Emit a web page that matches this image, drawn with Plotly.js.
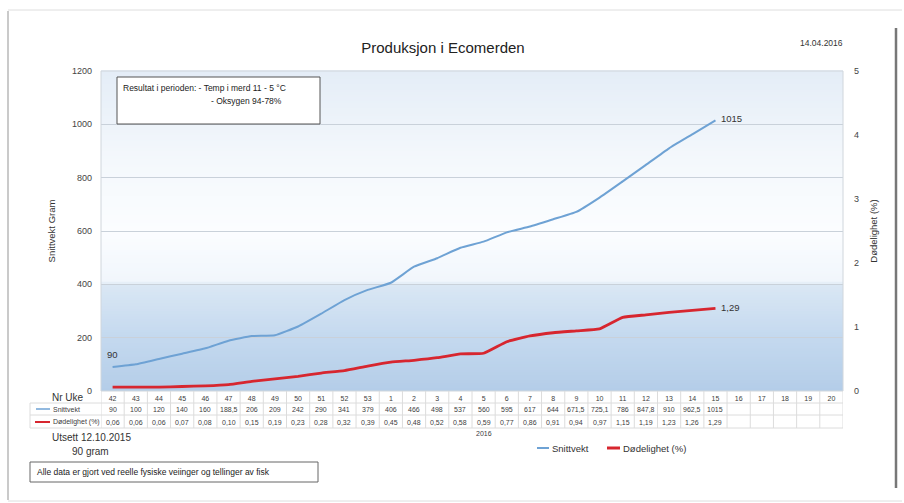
<!DOCTYPE html>
<html>
<head>
<meta charset="utf-8">
<script src="https://cdn.plot.ly/plotly-3.0.1.min.js"></script>
<style>
html,body{margin:0;padding:0;background:#fff;}
#chart{width:904px;height:503px;}
</style>
</head>
<body>
<div id="chart"></div>
<script>
// ---- data ----
const weeks = ["42","43","44","45","46","47","48","49","50","51","52","53","1","2","3","4","5","6","7","8","9","10","11","12","13","14","15","16","17","18","19","20"];
const snittvekt = [90,100,120,140,160,188.5,206,209,242,290,341,379,406,466,498,537,560,595,617,644,671.5,725.1,786,847.8,910,962.5,1015];
const dodelighet = [0.06,0.06,0.06,0.07,0.08,0.10,0.15,0.19,0.23,0.28,0.32,0.39,0.45,0.48,0.52,0.58,0.59,0.77,0.86,0.91,0.94,0.97,1.15,1.19,1.23,1.26,1.29];
const leftTicks = [0,200,400,600,800,1000,1200];
const rightTicks = [0,1,2,3,4,5];

// ---- geometry helpers (layout only) ----
const W = 904, H = 503;
const L = 101, R = 843, T = 71, B = 391;
const px = x => (x - L) / (R - L);
const py = y => (B - y) / (B - T);
const idx = weeks.map((w, i) => i);
const idxS = snittvekt.map((v, i) => i);
const idxD = dodelighet.map((v, i) => i);
const fmt = (v, d) => (d === undefined ? String(v) : v.toFixed(d)).replace('.', ',');

const blue = '#6ea2d4';
const red = '#d7262f';
const FONT = 'Liberation Sans, Arial, sans-serif';
const txt = '#404040';

const shapes = [];
const annotations = [];
function note(o) {
  annotations.push(Object.assign({showarrow:false, xanchor:'center', yanchor:'middle'}, o));
}

// background gradient bands in plot area
function lerp(a, b, t) { return a + (b - a) * t; }
function hex2rgb(h) { return [parseInt(h.slice(1,3),16), parseInt(h.slice(3,5),16), parseInt(h.slice(5,7),16)]; }
const stops = [
  [0.00, '#b4cde8'],
  [0.17, '#c4d9ef'],
  [0.33, '#dae7f4'],
  [0.345, '#f1f6fc'],
  [0.50, '#fbfdff'],
  [0.72, '#f4f8fc'],
  [1.00, '#e4edf7']
];
function colAt(f) {
  for (let k = 0; k < stops.length - 1; k++) {
    if (f >= stops[k][0] && f <= stops[k+1][0]) {
      const t = (f - stops[k][0]) / (stops[k+1][0] - stops[k][0]);
      const a = hex2rgb(stops[k][1]), b = hex2rgb(stops[k+1][1]);
      return 'rgb(' + Math.round(lerp(a[0],b[0],t)) + ',' + Math.round(lerp(a[1],b[1],t)) + ',' + Math.round(lerp(a[2],b[2],t)) + ')';
    }
  }
  return stops[stops.length-1][1];
}
const N = 120;
for (let k = 0; k < N; k++) {
  const f0 = k / N, f1 = (k + 1) / N;
  shapes.push({type:'rect', xref:'paper', yref:'paper', x0:0, x1:1, y0:f0, y1:f1 + 0.002,
    fillcolor: colAt((f0 + f1) / 2), line:{width:0}, layer:'below'});
}
// plot border
shapes.push({type:'rect', xref:'paper', yref:'paper', x0:0, x1:1, y0:0, y1:1, line:{color:'#d0d6dc', width:1}, fillcolor:'rgba(0,0,0,0)', layer:'above'});

// outer frame
shapes.push({type:'line', xref:'paper', yref:'paper', x0:px(8), x1:px(8), y0:py(11), y1:py(500), line:{color:'#b8b8b8', width:1.5}});
shapes.push({type:'line', xref:'paper', yref:'paper', x0:px(8), x1:px(902), y0:py(10), y1:py(10), line:{color:'#dedede', width:1}});
shapes.push({type:'line', xref:'paper', yref:'paper', x0:px(8), x1:px(902), y0:py(501), y1:py(501), line:{color:'#dedede', width:1}});
shapes.push({type:'line', xref:'paper', yref:'paper', x0:px(896), x1:px(896), y0:py(28), y1:py(488), line:{color:'#777', width:2.5}});

// data table grid
const gridCol = '#dcdcdc';
[403, 415, 428].forEach(y => {
  shapes.push({type:'line', xref:'paper', yref:'paper', x0:px(30), x1:1, y0:py(y), y1:py(y), line:{color:gridCol, width:1}});
});
shapes.push({type:'line', xref:'paper', yref:'paper', x0:px(30), x1:px(30), y0:py(403), y1:py(428), line:{color:gridCol, width:1}});
for (let i = 0; i <= weeks.length; i++) {
  shapes.push({type:'line', xref:'x', yref:'paper', x0:i - 0.5, x1:i - 0.5, y0:py(391), y1:py(428), line:{color:gridCol, width:1}});
}
// table row keys
shapes.push({type:'line', xref:'paper', yref:'paper', x0:px(36), x1:px(50), y0:py(409), y1:py(409), line:{color:blue, width:1.5}});
shapes.push({type:'line', xref:'paper', yref:'paper', x0:px(35), x1:px(50), y0:py(422), y1:py(422), line:{color:red, width:2}});

// table row texts
snittvekt.forEach((v, i) => note({xref:'x', yref:'paper', x:i, y:py(409), text:fmt(v), font:{size:7, color:txt, family:FONT}}));
dodelighet.forEach((v, i) => note({xref:'x', yref:'paper', x:i, y:py(422), text:fmt(v, 2), font:{size:7, color:txt, family:FONT}}));
note({xref:'x', yref:'paper', x:16, y:py(433), text:'2016', font:{size:7, color:txt, family:FONT}});
note({xref:'paper', yref:'paper', x:px(50), y:py(397), text:'Nr Uke', xanchor:'left', font:{size:10, color:'#333', family:FONT}});
note({xref:'paper', yref:'paper', x:px(51), y:py(409), text:'Snittvekt', xanchor:'left', font:{size:7, color:txt, family:FONT}});
note({xref:'paper', yref:'paper', x:px(51), y:py(422), text:'Dødelighet (%)', xanchor:'left', font:{size:7, color:txt, family:FONT}});

// notes
note({xref:'paper', yref:'paper', x:px(91), y:py(437), text:'Utsett 12.10.2015', font:{size:10, color:'#333', family:FONT}});
note({xref:'paper', yref:'paper', x:px(90), y:py(451), text:'90 gram', font:{size:10, color:'#333', family:FONT}});

// custom legend
shapes.push({type:'line', xref:'paper', yref:'paper', x0:px(537), x1:px(549), y0:py(448), y1:py(448), line:{color:blue, width:2}});
note({xref:'paper', yref:'paper', x:px(550), y:py(448), text:'Snittvekt', xanchor:'left', font:{size:9.5, color:'#333', family:FONT}});
shapes.push({type:'line', xref:'paper', yref:'paper', x0:px(607), x1:px(620), y0:py(448), y1:py(448), line:{color:red, width:3}});
note({xref:'paper', yref:'paper', x:px(621), y:py(448), text:'Dødelighet (%)', xanchor:'left', font:{size:9.5, color:'#333', family:FONT}});

// bottom note box
shapes.push({type:'rect', xref:'paper', yref:'paper', x0:px(30), x1:px(318), y0:py(462), y1:py(482), line:{color:'#666', width:1}, fillcolor:'#fff'});
note({xref:'paper', yref:'paper', x:px(35), y:py(472), text:'Alle data er gjort ved reelle fysiske veiinger og tellinger av fisk', xanchor:'left', font:{size:8.5, color:'#222', family:FONT}});

// result box in plot
shapes.push({type:'rect', xref:'paper', yref:'paper', x0:px(117), x1:px(320), y0:py(77), y1:py(124), line:{color:'#555', width:1}, fillcolor:'#fff', layer:'above'});
note({xref:'paper', yref:'paper', x:px(121), y:py(88), text:'Resultat i perioden: - Temp i merd 11 - 5 °C', xanchor:'left', font:{size:8.5, color:'#222', family:FONT}});
note({xref:'paper', yref:'paper', x:px(209), y:py(101), text:'- Oksygen 94-78%', xanchor:'left', font:{size:8.5, color:'#222', family:FONT}});

// date
note({xref:'paper', yref:'paper', x:px(821), y:py(43), text:'14.04.2016', font:{size:8.5, color:'#333', family:FONT}});

// data labels
const lastS = snittvekt.length - 1, lastD = dodelighet.length - 1;
note({xref:'x', yref:'y', x:0, y:snittvekt[0], text:fmt(snittvekt[0]), yshift:13, font:{size:9.5, color:'#333', family:FONT}});
note({xref:'x', yref:'y', x:lastS, y:snittvekt[lastS], text:fmt(snittvekt[lastS]), xanchor:'left', xshift:4, yshift:2, font:{size:9.5, color:'#333', family:FONT}});
note({xref:'x', yref:'y2', x:lastD, y:dodelighet[lastD], text:fmt(dodelighet[lastD], 2), xanchor:'left', xshift:4, yshift:1, font:{size:9.5, color:'#333', family:FONT}});

const traces = [
  {x: idxS, y: snittvekt, type:'scatter', mode:'lines', name:'Snittvekt', line:{color:blue, width:2, shape:'spline', smoothing:0.4}, yaxis:'y', hoverinfo:'y'},
  {x: idxD, y: dodelighet, type:'scatter', mode:'lines', name:'Dødelighet (%)', line:{color:red, width:2.8, shape:'spline', smoothing:0.4}, yaxis:'y2', hoverinfo:'y'}
];

const layout = {
  width: W, height: H,
  margin: {l: L, r: W - R, t: T, b: H - B, pad: 0},
  paper_bgcolor: '#fff',
  plot_bgcolor: 'rgba(0,0,0,0)',
  showlegend: false,
  font: {family: FONT, color: '#333'},
  title: {text: 'Produksjon i Ecomerden', x: 0.49, xanchor:'center', y: 1 - 48 / H, yanchor:'middle', font: {size: 15, color: '#222', family: FONT}},
  xaxis: {
    range: [-0.5, weeks.length - 0.5],
    tickmode: 'array', tickvals: idx, ticktext: weeks,
    tickfont: {size: 7, color: txt, family: FONT},
    showgrid: false, zeroline: false, showline: false, ticks: '', ticklen: 0,
    ticklabelstandoff: 2
  },
  yaxis: {
    range: [0, 1200], tickmode: 'array', tickvals: leftTicks,
    tickfont: {size: 9, color: '#444', family: FONT},
    showgrid: true, gridcolor: '#c9d1da', gridwidth: 1, zeroline: false, showline: false, ticks: '',
    ticklabelstandoff: 8,
    title: {text: 'Snittvekt Gram', font: {size: 9.5, color: '#333', family: FONT}, standoff: 14}
  },
  yaxis2: {
    range: [0, 5], tickmode: 'array', tickvals: rightTicks, overlaying: 'y', side: 'right',
    tickfont: {size: 9, color: '#444', family: FONT},
    showgrid: false, zeroline: false, showline: false, ticks: '',
    ticklabelstandoff: 10,
    title: {text: 'Dødelighet (%)', font: {size: 9.5, color: '#333', family: FONT}, standoff: 12}
  },
  shapes: shapes,
  annotations: annotations
};

Plotly.newPlot('chart', traces, layout, {displayModeBar: false, staticPlot: true});
</script>
</body>
</html>
